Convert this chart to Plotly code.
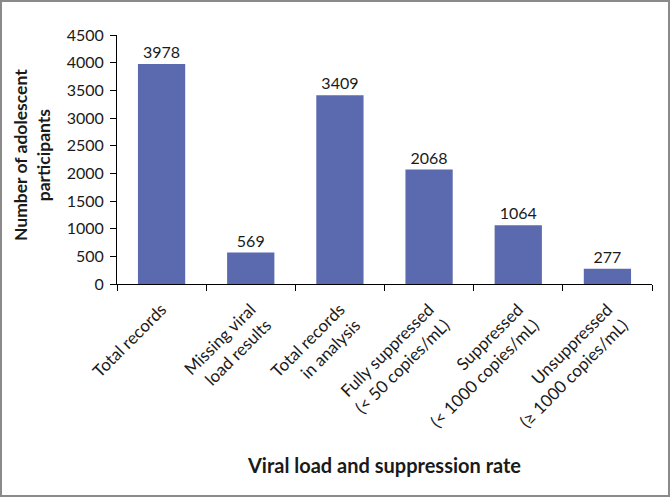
import plotly.graph_objects as go

categories = [
    "Total records",
    "Missing viral<br>load results",
    "Total records<br>in analysis",
    "Fully suppressed<br>(< 50 copies/mL)",
    "Suppressed<br>(< 1000 copies/mL)",
    "Unsuppressed<br>(≥ 1000 copies/mL)",
]
values = [3978, 569, 3409, 2068, 1064, 277]
y_ticks = [0, 500, 1000, 1500, 2000, 2500, 3000, 3500, 4000, 4500]

W, H = 670, 497
ML, MR, MT, MB = 117, 18, 35, 213
PW, PH = W - ML - MR, H - MT - MB
FONT = "Lato, 'Open Sans', sans-serif"

fig = go.Figure(
    go.Bar(
        x=categories,
        y=values,
        marker=dict(color="#5B69AF", line=dict(width=0)),
        width=0.53,
        text=[str(v) for v in values],
        textposition="outside",
        textfont=dict(size=16, color="#1a1a1a", family=FONT),
        cliponaxis=False,
    )
)

fig.update_layout(
    width=W,
    height=H,
    margin=dict(l=ML, r=MR, t=MT, b=MB),
    paper_bgcolor="white",
    plot_bgcolor="white",
    font=dict(family=FONT, color="#1a1a1a"),
    showlegend=False,
    xaxis=dict(
        tickangle=-45,
        tickfont=dict(size=17, family=FONT),
        ticklabelstandoff=8,
        showline=True,
        linecolor="black",
        linewidth=1,
        ticks="outside",
        tickson="boundaries",
        ticklen=6,
        tickcolor="black",
        showgrid=False,
        title=dict(
            text="<b>Viral load and suppression rate</b>",
            font=dict(size=20, family=FONT),
            standoff=28,
        ),
    ),
    yaxis=dict(
        range=[0, 4500],
        tickvals=y_ticks,
        tickfont=dict(size=16, family=FONT),
        ticklabelstandoff=3,
        showline=True,
        linecolor="black",
        linewidth=1,
        ticks="outside",
        ticklen=6,
        tickcolor="black",
        showgrid=False,
        zeroline=False,
    ),
    annotations=[
        dict(
            text="<b>Number of adolescent<br>participants</b>",
            xref="paper",
            yref="paper",
            x=(32 - ML) / PW,
            y=(MT + PH - 155) / PH,
            xanchor="center",
            yanchor="middle",
            textangle=-90,
            showarrow=False,
            font=dict(size=17.5, family=FONT, color="#1a1a1a"),
        )
    ],
    shapes=[
        dict(
            type="rect",
            xref="paper",
            yref="paper",
            x0=(1 - ML) / PW,
            x1=(W - 1 - ML) / PW,
            y0=-(H - 1 - MT - PH) / PH,
            y1=1 + (MT - 1) / PH,
            line=dict(color="#8a8a8a", width=2),
            fillcolor="rgba(0,0,0,0)",
            layer="above",
        )
    ],
)

fig.write_html(
    "out.html",
    config={"displayModeBar": False},
    post_script="document.body.style.margin='0';document.body.style.padding='0';",
)
